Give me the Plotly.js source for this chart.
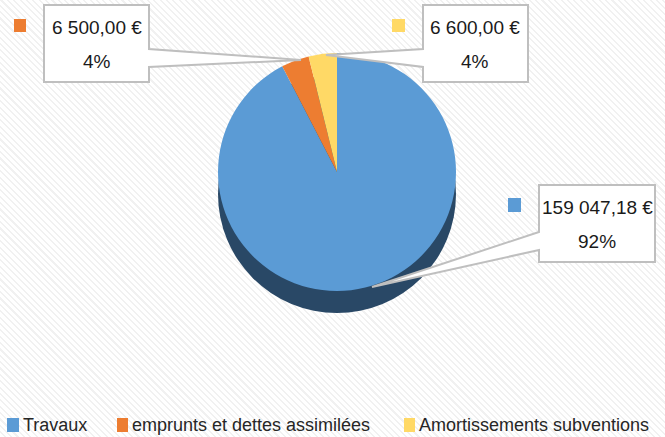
<!DOCTYPE html>
<html><head><meta charset="utf-8">
<script src="https://cdn.plot.ly/plotly-3.0.1.min.js"></script>
<style>
html,body{margin:0;padding:0;background:#fff;}
#chart{width:665px;height:437px;background:repeating-linear-gradient(45deg,#ffffff 0px,#ffffff 3px,#f1f1f1 3px,#f1f1f1 4.5px);}
</style></head><body><div id="chart"></div>
<script>
// ---- data ----
const categories = ["Travaux", "emprunts et dettes assimilées", "Amortissements subventions"];
const values = [159047.18, 6500.00, 6600.00];
const colors = ["#5b9bd5", "#ed7d31", "#ffd966"];
const sideColor = "#294866";

// ---- helpers ----
const W = 665, H = 437;
const FONT = '"Liberation Sans", Arial, sans-serif';
const px = x => x / W;
const py = y => 1 - y / H;
const P = (x, y) => px(x) + ',' + py(y);
const total = values.reduce((a, b) => a + b, 0);
function fmtEUR(v) {
  const parts = v.toFixed(2).split('.');
  parts[0] = parts[0].replace(/\B(?=(\d{3})+(?!\d))/g, ' ');
  return parts[0] + ',' + parts[1] + ' €';
}
const pct = v => Math.round(v / total * 100) + '%';

// pie geometry (pixels)
const cx = 337, cy = 172, r = 119, depth = 22;
const dom = (c) => ({
  x: [px(cx - r), px(cx + r)],
  y: [py(c + r), py(c - r)]
});

const traces = [
  { type: 'pie', values: [total], labels: ['side'], sort: false,
    marker: { colors: [sideColor], line: { width: 0 } },
    textinfo: 'none', hoverinfo: 'skip', showlegend: false,
    domain: dom(cy + depth) },
  { type: 'pie', values: values, labels: categories, sort: false,
    direction: 'clockwise', rotation: 0,
    marker: { colors: colors, line: { width: 0 } },
    textinfo: 'none', hoverinfo: 'label+value+percent', showlegend: false,
    domain: dom(cy) }
];

// callouts: box [x0,y0,x1,y1], side, tail y range, tip, key square
const callouts = [
  { i: 1, box: [44, 5, 149, 82], side: 'right', ty: [49, 67], tip: [301, 60], key: [14, 19, 26, 32] },
  { i: 2, box: [423, 5, 528, 82], side: 'left', ty: [49, 67], tip: [326, 55], key: [392, 19, 405, 32] },
  { i: 0, box: [539, 185, 655, 262], side: 'left', ty: [232, 250], tip: [372, 287], key: [508, 198, 521, 212] }
];

const shapes = [];
const annotations = [];
callouts.forEach(c => {
  const [x0, y0, x1, y1] = c.box;
  let path;
  if (c.side === 'right') {
    path = 'M' + P(x0, y0) + 'L' + P(x1, y0) + 'L' + P(x1, c.ty[0]) + 'L' + P(c.tip[0], c.tip[1]) +
      'L' + P(x1, c.ty[1]) + 'L' + P(x1, y1) + 'L' + P(x0, y1) + 'Z';
  } else {
    path = 'M' + P(x0, y0) + 'L' + P(x1, y0) + 'L' + P(x1, y1) + 'L' + P(x0, y1) + 'L' + P(x0, c.ty[1]) +
      'L' + P(c.tip[0], c.tip[1]) + 'L' + P(x0, c.ty[0]) + 'Z';
  }
  shapes.push({ type: 'path', xref: 'paper', yref: 'paper', path: path,
    fillcolor: '#ffffff', line: { color: '#bfbfbf', width: 2 }, layer: 'above' });
  const k = c.key;
  shapes.push({ type: 'rect', xref: 'paper', yref: 'paper', x0: px(k[0]), x1: px(k[2]), y0: py(k[3]), y1: py(k[1]),
    fillcolor: colors[c.i], line: { width: 0 }, layer: 'above' });
  const mx = (x0 + x1) / 2;
  const h = y1 - y0;
  annotations.push({ xref: 'paper', yref: 'paper', x: px(mx), y: py(y0 + h * 0.29), xanchor: 'center', yanchor: 'middle',
    text: fmtEUR(values[c.i]), showarrow: false, font: { family: FONT, size: 19, color: '#1a1a1a' } });
  annotations.push({ xref: 'paper', yref: 'paper', x: px(mx), y: py(y0 + h * 0.74), xanchor: 'center', yanchor: 'middle',
    text: pct(values[c.i]), showarrow: false, font: { family: FONT, size: 19, color: '#1a1a1a' } });
});

// legend (bottom)
const legendKeys = [[7, 418, 19, 432], [117, 418, 128, 432], [404, 418, 415, 432]];
const legendTextX = [21, 130, 417];
categories.forEach((c, i) => {
  const k = legendKeys[i];
  shapes.push({ type: 'rect', xref: 'paper', yref: 'paper', x0: px(k[0]), x1: px(k[2]), y0: py(k[3]), y1: py(k[1]),
    fillcolor: colors[i], line: { width: 0 } });
  annotations.push({ xref: 'paper', yref: 'paper', x: px(legendTextX[i]), y: py(425), xanchor: 'left', yanchor: 'middle',
    text: c, showarrow: false, font: { family: FONT, size: 18, color: '#262626' } });
});

const layout = {
  width: W, height: H,
  margin: { l: 0, r: 0, t: 0, b: 0 },
  paper_bgcolor: 'rgba(0,0,0,0)',
  plot_bgcolor: 'rgba(0,0,0,0)',
  showlegend: false,
  shapes: shapes,
  annotations: annotations
};
Plotly.newPlot('chart', traces, layout, { displayModeBar: false, staticPlot: true });
</script>
</body></html>
